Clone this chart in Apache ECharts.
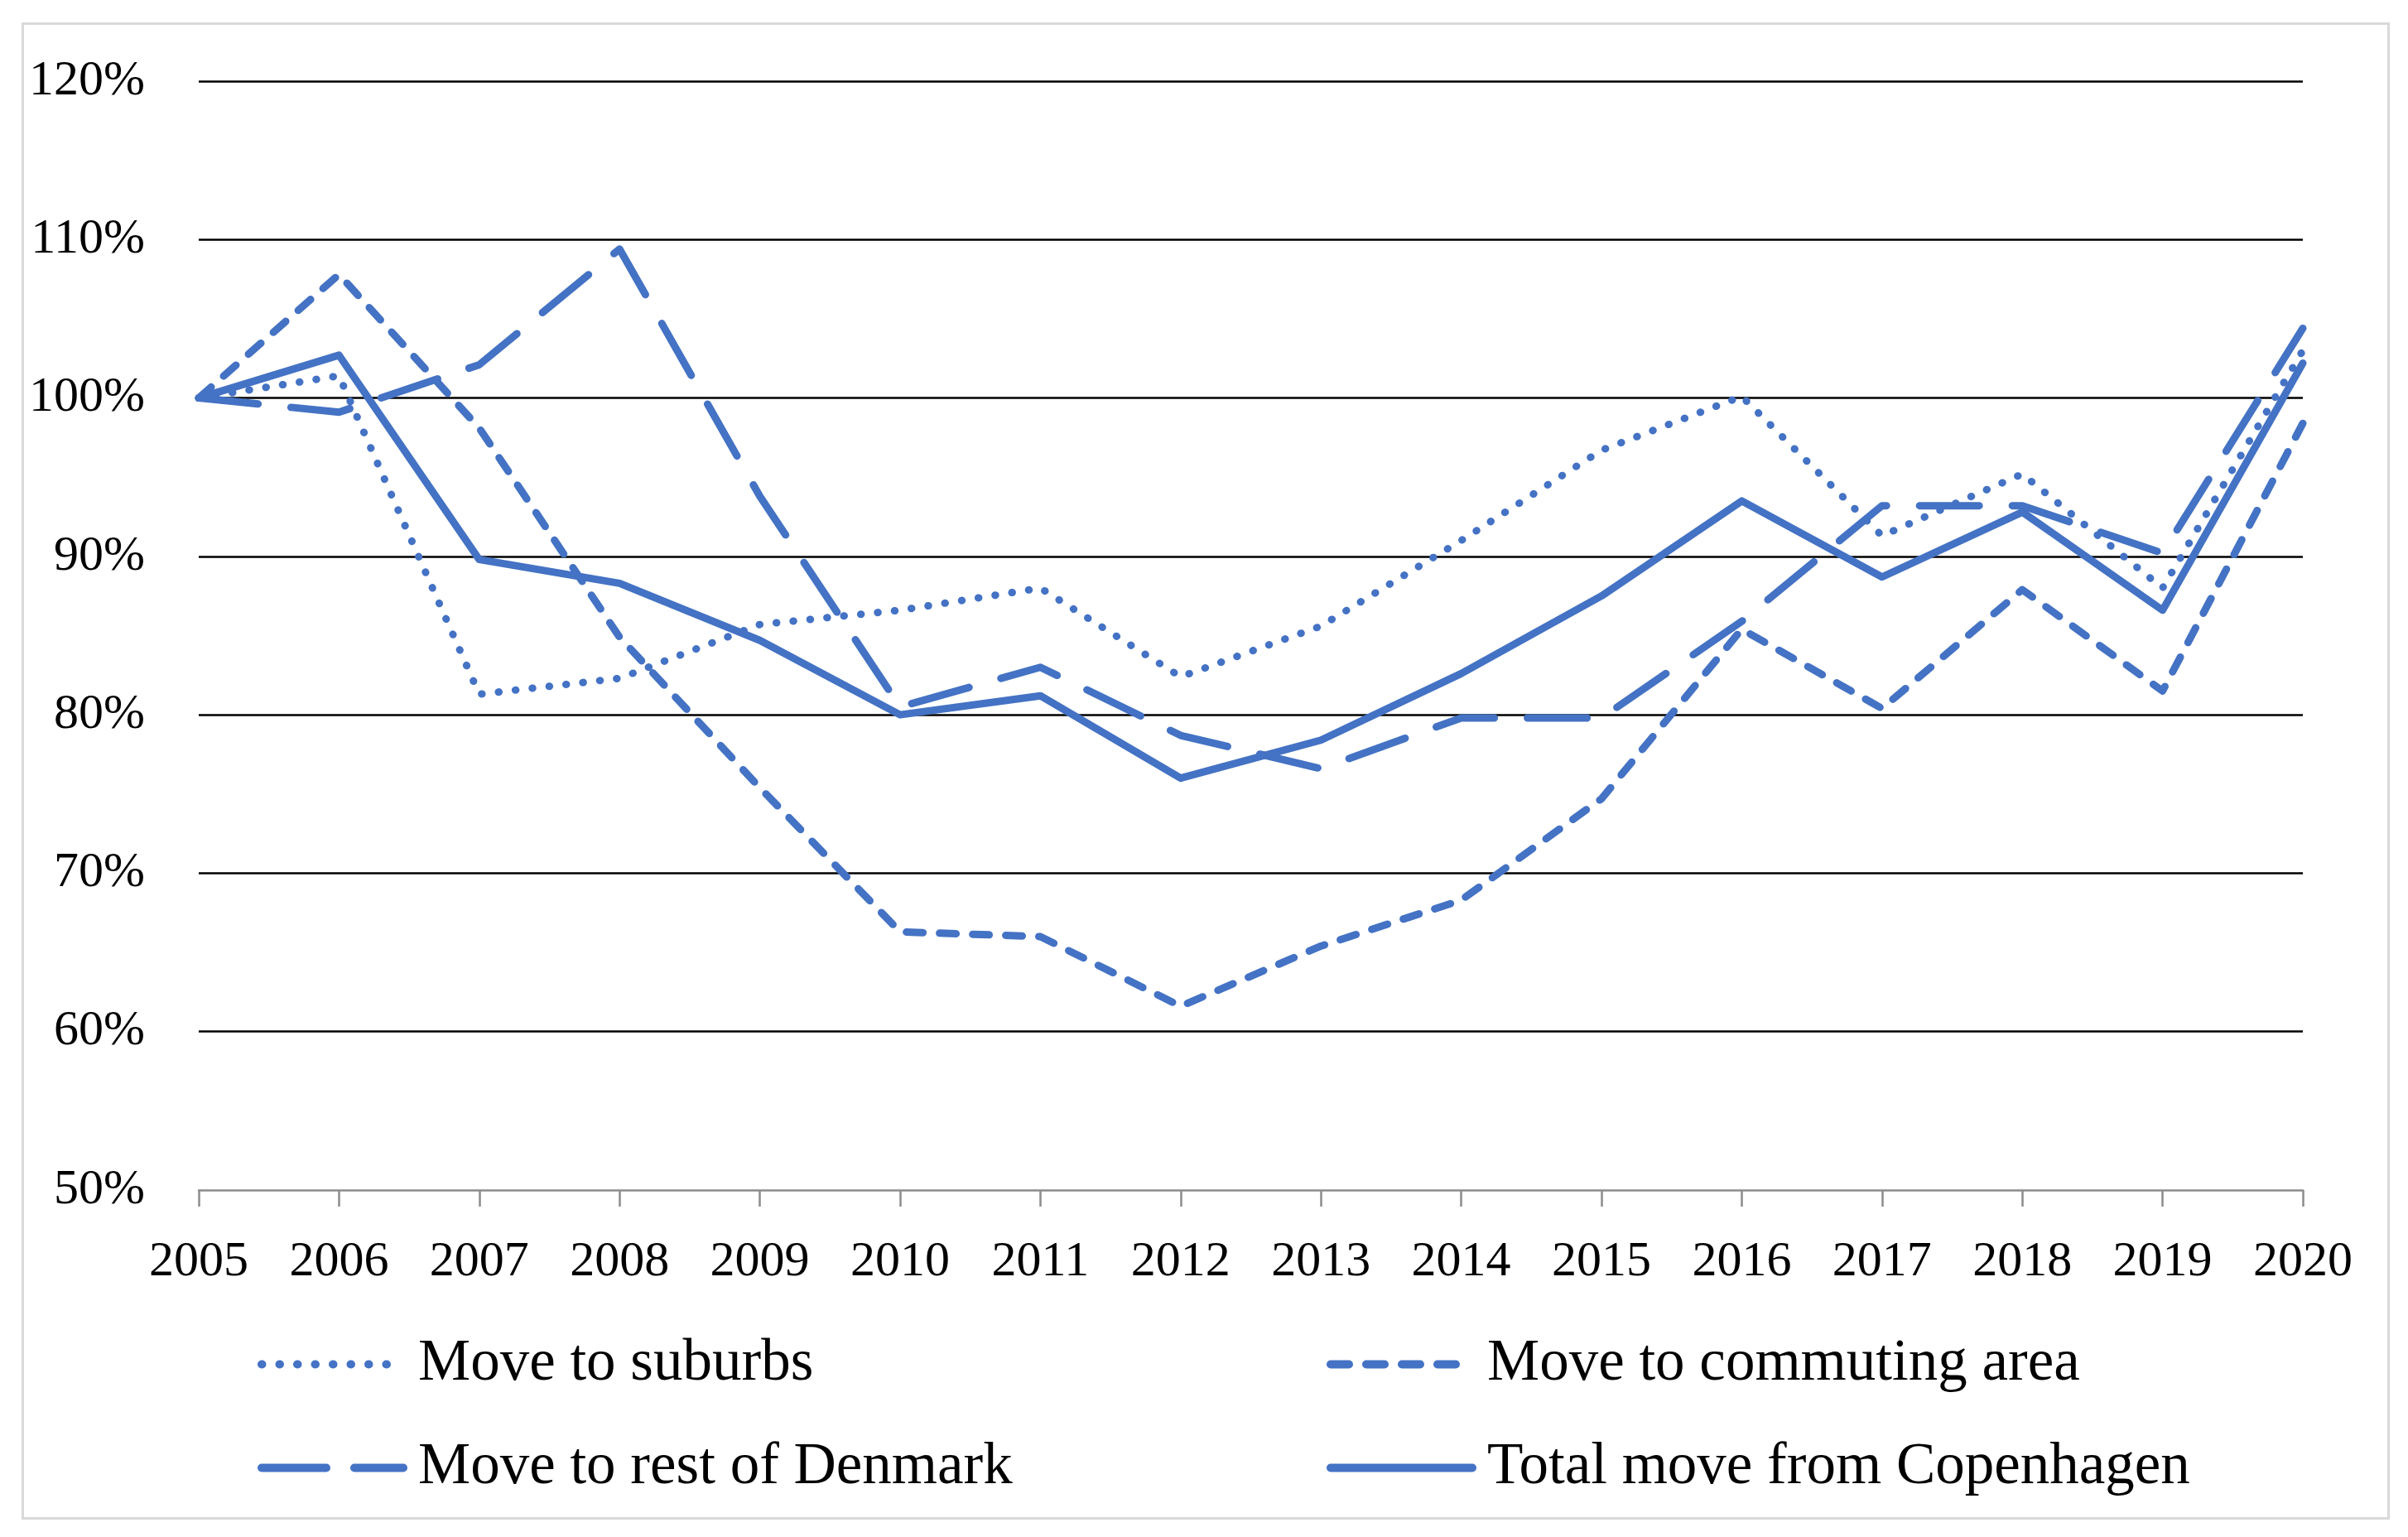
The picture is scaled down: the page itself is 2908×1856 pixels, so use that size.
<!DOCTYPE html>
<html>
<head>
<meta charset="utf-8">
<script src="https://cdn.jsdelivr.net/npm/echarts@6/dist/echarts.min.js"></script>
<style>
html,body{margin:0;padding:0;background:#fff;}
#chart{width:2908px;height:1856px;}
</style>
</head>
<body>
<div id="chart"></div>
<script>
const years = ['2005','2006','2007','2008','2009','2010','2011','2012','2013','2014','2015','2016','2017','2018','2019','2020'];
const suburbs   = [100, 101.4, 81.3, 82.3, 85.7, 86.6, 88.0, 82.4, 85.6, 91.0, 96.7, 100.1, 91.3, 95.2, 88.0, 103.0];
const commuting = [100, 107.8, 98.1, 84.9, 75.4, 66.3, 66.0, 61.6, 65.4, 68.3, 74.7, 85.4, 80.4, 87.9, 81.5, 98.4];
const restDK    = [100, 99.1, 102.1, 109.4, 93.8, 80.5, 83.0, 78.7, 76.6, 79.8, 79.8, 85.9, 93.2, 93.2, 90.2, 104.4];
const total     = [100, 102.7, 89.8, 88.3, 84.7, 80.0, 81.2, 76.0, 78.4, 82.6, 87.5, 93.5, 88.7, 92.8, 86.6, 102.2];
const yTicks = {min: 50, max: 120, interval: 10};
const names = ['Move to suburbs', 'Move to commuting area', 'Move to rest of Denmark', 'Total move from Copenhagen'];

const BLUE = '#4472C4';
const FONT = '"Liberation Serif", "Times New Roman", serif';
const LW = 9;
const dashes = [[0.5, 20], [20, 20], [72, 40], 'solid'];
const legendDashes = [[0.5, 21], [22, 21], [78, 34], 'solid'];

function lineSeries(name, data, dash) {
  return {
    name: name, type: 'line', data: data,
    symbol: 'none', showSymbol: false, smooth: false,
    lineStyle: {color: BLUE, width: LW, type: dash, cap: 'round', join: 'round'},
    itemStyle: {color: BLUE},
    emphasis: {disabled: true}
  };
}

function legendAt(i, left, top) {
  return {
    data: [names[i]], left: left, top: top,
    orient: 'horizontal', itemWidth: 171, itemHeight: 20, padding: 0,
    selectedMode: false,
    itemStyle: {opacity: 0, borderWidth: 0},
    lineStyle: {color: BLUE, width: 10, type: legendDashes[i], cap: 'round', join: 'round', opacity: 1},
    textStyle: {fontFamily: FONT, fontSize: 71, color: '#000', padding: [0, 0, 0, 13]}
  };
}

const chart = echarts.init(document.getElementById('chart'), null, {renderer: 'canvas'});
chart.setOption({
  animation: false,
  backgroundColor: '#fff',
  graphic: [{
    type: 'rect', left: 25, top: 26, z: -10,
    shape: {width: 2857, height: 1805},
    style: {fill: 'none', stroke: '#D9D9D9', lineWidth: 3}
  }],
  grid: {left: 240, right: 127, top: 98, bottom: 419, containLabel: false},
  xAxis: {
    type: 'category', data: years, boundaryGap: false,
    axisLine: {show: true, lineStyle: {color: '#8C8C8C', width: 2.5}},
    axisTick: {show: true, length: 20, lineStyle: {color: '#8C8C8C', width: 2.5}},
    axisLabel: {fontFamily: FONT, fontSize: 60, color: '#000', margin: 57},
    splitLine: {show: false}, z: 5
  },
  yAxis: {
    type: 'value', min: yTicks.min, max: yTicks.max, interval: yTicks.interval,
    axisLine: {show: false}, axisTick: {show: false},
    axisLabel: {fontFamily: FONT, fontSize: 60, color: '#000', margin: 65, formatter: '{value}%'},
    splitLine: {show: true, showMinLine: false, lineStyle: {color: '#000', width: 2.5}}
  },
  legend: [
    legendAt(0, 311, 1612),
    legendAt(1, 1602, 1612),
    legendAt(2, 311, 1737),
    legendAt(3, 1602, 1737)
  ],
  series: [
    lineSeries(names[0], suburbs, dashes[0]),
    lineSeries(names[1], commuting, dashes[1]),
    lineSeries(names[2], restDK, dashes[2]),
    lineSeries(names[3], total, dashes[3])
  ]
});
</script>
</body>
</html>
